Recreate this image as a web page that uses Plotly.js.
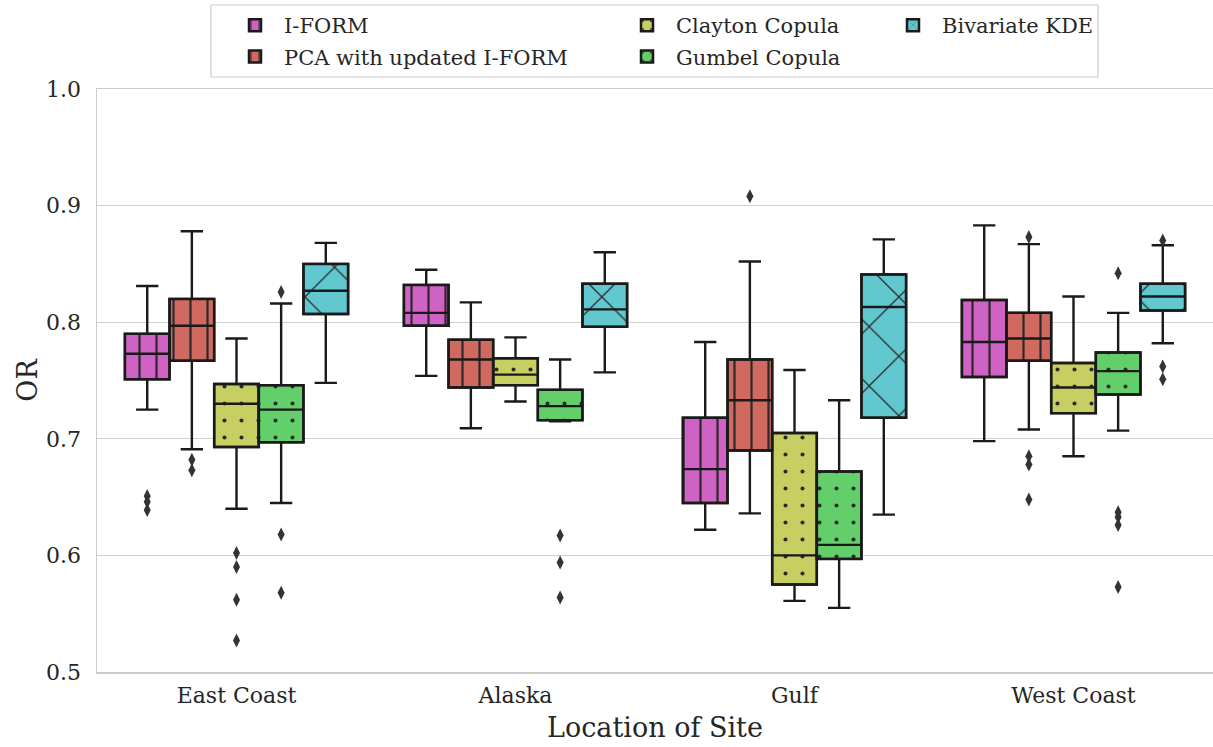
<!DOCTYPE html>
<html>
<head>
<meta charset="utf-8">
<script src="https://cdn.plot.ly/plotly-3.0.1.min.js"></script>
<style>html,body{margin:0;padding:0;background:#fff;}#chart{width:1213px;height:747px;}</style>
</head>
<body>
<div id="chart"></div>
<script>
const categories = ['East Coast', 'Alaska', 'Gulf', 'West Coast'];
const seriesNames = ['I-FORM', 'PCA with updated I-FORM', 'Clayton Copula', 'Gumbel Copula', 'Bivariate KDE'];
const yTicks = [0.5, 0.6, 0.7, 0.8, 0.9, 1.0];

// I-FORM
const iformLower = [0.725, 0.754, 0.622, 0.698];
const iformQ1 = [0.751, 0.797, 0.645, 0.753];
const iformMedian = [0.773, 0.808, 0.674, 0.783];
const iformQ3 = [0.790, 0.832, 0.718, 0.819];
const iformUpper = [0.831, 0.845, 0.783, 0.883];
const iformOutliers = [[0.651, 0.646, 0.639], [], [], []];

// PCA with updated I-FORM
const pcaLower = [0.691, 0.709, 0.636, 0.708];
const pcaQ1 = [0.767, 0.744, 0.690, 0.767];
const pcaMedian = [0.797, 0.768, 0.733, 0.786];
const pcaQ3 = [0.820, 0.785, 0.768, 0.808];
const pcaUpper = [0.878, 0.817, 0.852, 0.867];
const pcaOutliers = [[0.682, 0.673], [], [0.908], [0.873, 0.685, 0.678, 0.648]];

// Clayton Copula
const claytonLower = [0.640, 0.732, 0.561, 0.685];
const claytonQ1 = [0.693, 0.746, 0.575, 0.722];
const claytonMedian = [0.730, 0.755, 0.600, 0.744];
const claytonQ3 = [0.747, 0.769, 0.705, 0.765];
const claytonUpper = [0.786, 0.787, 0.759, 0.822];
const claytonOutliers = [[0.602, 0.590, 0.562, 0.527], [], [], []];

// Gumbel Copula
const gumbelLower = [0.645, 0.715, 0.555, 0.707];
const gumbelQ1 = [0.697, 0.716, 0.597, 0.738];
const gumbelMedian = [0.725, 0.728, 0.609, 0.758];
const gumbelQ3 = [0.746, 0.742, 0.672, 0.774];
const gumbelUpper = [0.816, 0.768, 0.733, 0.808];
const gumbelOutliers = [[0.826, 0.618, 0.568], [0.617, 0.594, 0.564], [], [0.842, 0.637, 0.633, 0.626, 0.573]];

// Bivariate KDE
const kdeLower = [0.748, 0.757, 0.635, 0.782];
const kdeQ1 = [0.807, 0.796, 0.718, 0.810];
const kdeMedian = [0.827, 0.811, 0.813, 0.822];
const kdeQ3 = [0.850, 0.833, 0.841, 0.833];
const kdeUpper = [0.868, 0.860, 0.871, 0.866];
const kdeOutliers = [[], [], [], [0.870, 0.762, 0.751]];

const stats = [
  {lower: iformLower, q1: iformQ1, med: iformMedian, q3: iformQ3, upper: iformUpper, out: iformOutliers},
  {lower: pcaLower, q1: pcaQ1, med: pcaMedian, q3: pcaQ3, upper: pcaUpper, out: pcaOutliers},
  {lower: claytonLower, q1: claytonQ1, med: claytonMedian, q3: claytonQ3, upper: claytonUpper, out: claytonOutliers},
  {lower: gumbelLower, q1: gumbelQ1, med: gumbelMedian, q3: gumbelQ3, upper: gumbelUpper, out: gumbelOutliers},
  {lower: kdeLower, q1: kdeQ1, med: kdeMedian, q3: kdeQ3, upper: kdeUpper, out: kdeOutliers}
];

const colors = ['#d062c5', '#d0695f', '#c8cf62', '#62cf6a', '#62c8d0'];
const patterns = [
  {shape: '|', size: 17, solidity: 0.13},
  {shape: '|', size: 17, solidity: 0.13},
  {shape: '.', size: 17, solidity: 0.045},
  {shape: '.', size: 17, solidity: 0.045},
  {shape: 'x', size: 42, solidity: 0.06}
];
const legendIds = ['legend', 'legend', 'legend2', 'legend2', 'legend3'];
const FONT = 'DejaVu Serif, serif';
const dark = '#1a1a1a';
const textColor = '#262626';

const groupWidth = 0.8;
const nS = seriesNames.length;
const boxW = groupWidth / nS;
const catIdx = categories.map((c, i) => i);
const pos = s => catIdx.map(i => i + (s - (nS - 1) / 2) * boxW);

const traces = [];
// patterned box bodies (bars)
stats.forEach((st, s) => {
  traces.push({
    type: 'bar', name: seriesNames[s], legend: legendIds[s], legendgroup: 'g' + s,
    x: pos(s), base: st.q1, y: st.q3.map((v, i) => v - st.q1[i]),
    width: boxW,
    marker: {color: colors[s], line: {color: dark, width: 2.5},
      pattern: Object.assign({fgcolor: '#2a2a2a', fgopacity: 1, fillmode: 'overlay'}, patterns[s])},
    hoverinfo: 'skip'
  });
});
// whiskers & medians
stats.forEach((st, s) => {
  traces.push({
    type: 'box', showlegend: false,
    x: pos(s), q1: st.q1, median: st.med, q3: st.q3,
    lowerfence: st.lower, upperfence: st.upper,
    width: boxW, whiskerwidth: 0.5,
    fillcolor: 'rgba(0,0,0,0)', line: {color: dark, width: 2.4},
    boxpoints: false, hoverinfo: 'skip'
  });
});
// outliers
stats.forEach((st, s) => {
  const xs = [], ys = [];
  const p = pos(s);
  st.out.forEach((arr, i) => arr.forEach(v => { xs.push(p[i]); ys.push(v); }));
  traces.push({
    type: 'scatter', mode: 'markers', showlegend: false,
    x: xs, y: ys,
    marker: {symbol: 'diamond-tall', size: 10, color: '#333333'},
    hoverinfo: 'skip'
  });
});

const plotL = 97, plotR = 1213, plotT = 89, plotB = 672;
const px2x = px => (px - plotL) / (plotR - plotL);
const py2y = py => (plotB - py) / (plotB - plotT);

const legendCommon = {
  orientation: 'v', xanchor: 'left', yanchor: 'top',
  bgcolor: 'rgba(0,0,0,0)', borderwidth: 0,
  font: {family: FONT, size: 21, color: textColor},
  itemwidth: 48,
  traceorder: 'grouped', tracegroupgap: 1
};

const layout = {
  width: 1213, height: 747,
  margin: {l: plotL, r: 1213 - plotR, t: plotT, b: 747 - plotB},
  paper_bgcolor: '#ffffff', plot_bgcolor: '#ffffff',
  barmode: 'overlay', boxmode: 'overlay',
  font: {family: FONT, color: textColor},
  xaxis: {
    range: [-0.5, categories.length - 0.5],
    tickvals: catIdx, ticktext: categories,
    showgrid: false, zeroline: false,
    showline: true, linecolor: '#cccccc', linewidth: 1.5, mirror: true,
    ticks: 'outside', ticklen: 3, tickcolor: 'rgba(0,0,0,0)',
    tickfont: {family: FONT, size: 22, color: textColor},
    title: {text: 'Location of Site', font: {family: FONT, size: 27, color: textColor}, standoff: 11}
  },
  yaxis: {
    range: [0.5, 1.0], tickvals: yTicks, ticktext: yTicks.map(v => v.toFixed(1)),
    showgrid: true, gridcolor: '#d0d0d0', gridwidth: 1.2, zeroline: false,
    showline: true, linecolor: '#cccccc', linewidth: 1.5, mirror: true,
    ticks: 'outside', ticklen: 10, tickcolor: 'rgba(0,0,0,0)',
    tickfont: {family: FONT, size: 22, color: textColor},
    title: {text: 'OR', font: {family: FONT, size: 27, color: textColor}, standoff: 0}
  },
  legend: Object.assign({x: px2x(226), y: py2y(5)}, legendCommon),
  legend2: Object.assign({x: px2x(618), y: py2y(5)}, legendCommon),
  legend3: Object.assign({x: px2x(884), y: py2y(5)}, legendCommon),
  shapes: [{
    type: 'rect', xref: 'paper', yref: 'paper',
    x0: px2x(211), x1: px2x(1098), y0: py2y(77), y1: py2y(5),
    line: {color: '#cccccc', width: 1.2}, fillcolor: 'rgba(0,0,0,0)'
  }],
  showlegend: true
};

Plotly.newPlot('chart', traces, layout, {displayModeBar: false, staticPlot: true});
</script>
</body>
</html>
